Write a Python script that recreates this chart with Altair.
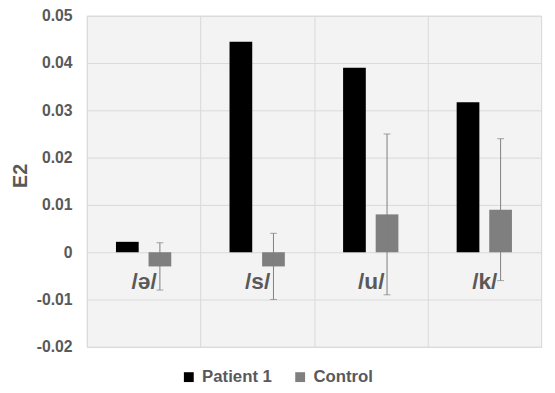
import altair as alt
import pandas as pd

categories = ["/ə/", "/s/", "/u/", "/k/"]
series = ["Patient 1", "Control"]
patient_values = [0.0022, 0.0445, 0.039, 0.0317]
control_values = [-0.003, -0.003, 0.008, 0.009]
control_sd = [0.005, 0.007, 0.017, 0.015]
y_ticks = [-0.02, -0.01, 0, 0.01, 0.02, 0.03, 0.04, 0.05]
colors = ["#000000", "#7f7f7f"]

rows = []
for c, p, k in zip(categories, patient_values, control_values):
    rows.append({"category": c, "series": "Patient 1", "value": p})
    rows.append({"category": c, "series": "Control", "value": k})
bars_df = pd.DataFrame(rows)

err_df = pd.DataFrame({
    "category": categories,
    "series": ["Control"] * len(categories),
    "low": [m - s for m, s in zip(control_values, control_sd)],
    "high": [m + s for m, s in zip(control_values, control_sd)],
})

FONT = "Liberation Sans"
TXT = "#595959"
GRID = "#d9d9d9"

x_enc = alt.X(
    "category:N", sort=categories,
    scale=alt.Scale(domain=categories, paddingInner=0, paddingOuter=0),
    axis=alt.Axis(
        title=None, orient="bottom", offset=-96, labelAngle=0,
        labelFontSize=23, labelFontWeight="bold", labelColor=TXT, labelFont=FONT,
        labelPadding=19, domain=False, ticks=False, grid=True, gridColor=GRID,
        tickBand="extent",
    ),
)
xoff_enc = alt.XOffset(
    "series:N", sort=series,
    scale=alt.Scale(domain=series, paddingInner=0.303, paddingOuter=0.894),
)
y_scale = alt.Scale(domain=[-0.02, 0.05], nice=False)

bars = alt.Chart(bars_df).mark_bar().encode(
    x=x_enc,
    xOffset=xoff_enc,
    y=alt.Y(
        "value:Q", scale=y_scale,
        axis=alt.Axis(
            values=y_ticks,
            labelExpr="datum.value == 0 ? '0' : replace(format(datum.value, '.2f'), '\u2212', '-')",
            title="E2", titleFontSize=20, titleFontWeight="bold", titleColor=TXT,
            titleFont=FONT, titleAngle=270, titleX=-61, titleY=162,
            titleAlign="center", titleBaseline="alphabetic",
            labelFontSize=16, labelFontWeight="bold", labelColor=TXT, labelFont=FONT,
            labelPadding=15, domain=False, ticks=False, grid=True, gridColor=GRID,
        ),
    ),
    color=alt.Color(
        "series:N", sort=series,
        scale=alt.Scale(domain=series, range=colors),
        legend=alt.Legend(
            title=None, orient="none", legendX=95, legendY=358,
            direction="horizontal", symbolType="square", symbolSize=100,
            symbolStrokeWidth=0, labelFontSize=17, labelFontWeight="bold",
            labelColor=TXT, labelFont=FONT, columnPadding=20, labelOffset=5,
        ),
    ),
)

rules = alt.Chart(err_df).mark_rule(color="#7f7f7f", strokeWidth=1).encode(
    x=alt.X("category:N", sort=categories),
    xOffset=alt.XOffset("series:N", sort=series),
    y=alt.Y("low:Q"),
    y2="high:Q",
)

caps = alt.Chart(err_df).transform_fold(["low", "high"], as_=["end", "v"]).mark_tick(
    color="#7f7f7f", thickness=1, size=7
).encode(
    x=alt.X("category:N", sort=categories),
    xOffset=alt.XOffset("series:N", sort=series),
    y=alt.Y("v:Q"),
)

chart = alt.layer(bars, rules, caps).properties(
    width=461, height=336,
    autosize=alt.AutoSizeParams(type="none"),
    padding={"left": 80, "top": 5, "right": 6, "bottom": 44},
).configure_view(
    fill="#f3f3f3", stroke=GRID, strokeWidth=1,
)

chart.save("out.html", embed_options={"renderer": "svg", "actions": False})
